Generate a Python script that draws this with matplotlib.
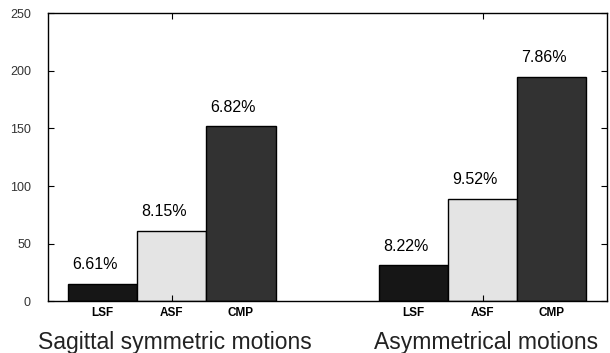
import numpy as np
import matplotlib
matplotlib.use('Agg')
import matplotlib.pyplot as plt

# data
groups = ['Sagittal symmetric motions', 'Asymmetrical motions']
methods = ['LSF', 'ASF', 'CMP']
values = {
    'LSF': [15, 31],
    'ASF': [61, 89],
    'CMP': [152, 195],
}
percents = {
    'LSF': ['6.61%', '8.22%'],
    'ASF': ['8.15%', '9.52%'],
    'CMP': ['6.82%', '7.86%'],
}
colors = {'LSF': '#161616', 'ASF': '#e4e4e4', 'CMP': '#323232'}

plt.rcParams['font.family'] = ['Liberation Sans', 'DejaVu Sans']

fig = plt.figure(figsize=(6.1, 3.53), dpi=100)
ax = fig.add_axes([0.078, 0.147, 0.917, 0.815])

x = np.arange(1, len(groups) + 1)
width = 0.667 / len(methods)

for i, m in enumerate(methods):
    pos = x + (i - 1) * width
    ax.bar(pos, values[m], width, color=colors[m], edgecolor='black', linewidth=1.0)
    for px, v, lab in zip(pos, values[m], percents[m]):
        ax.text(px - 0.025, v + 10, lab, ha='center', va='bottom', fontsize=11.5)
        ax.text(px, -5, m, ha='center', va='top', fontsize=8.5, fontweight='bold')

for xi, g in zip(x, groups):
    ax.text(xi + 0.01, -26, g, ha='center', va='top', fontsize=16.5,
            color='#222222')

ax.set_xlim(0.6, 2.4)
ax.set_ylim(0, 250)
ax.set_xticks(x)
ax.set_xticklabels([])
ax.set_yticks([0, 50, 100, 150, 200, 250])
ax.tick_params(direction='in', length=4, width=0.8, top=True, right=True,
               labelsize=9, labelcolor='#333333')
ax.tick_params(axis='y', pad=12)
for s in ax.spines.values():
    s.set_linewidth(1.0)

fig.savefig('out.png', dpi=100)
